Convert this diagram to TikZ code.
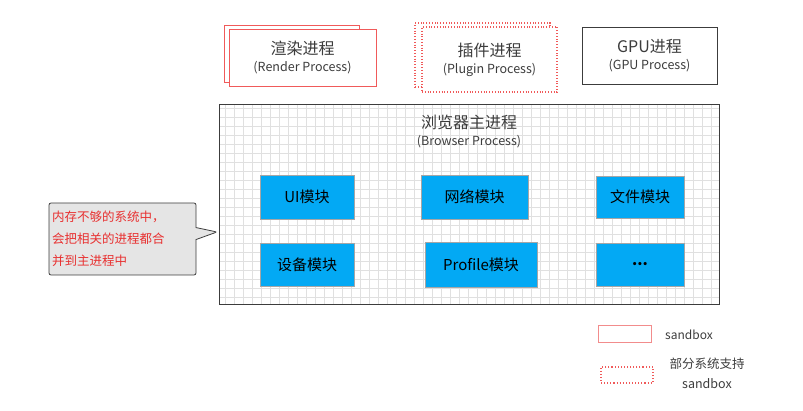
\documentclass[tikz,border=0pt]{standalone}
\usepackage{fontspec}
\setmainfont{Noto Sans CJK SC}
\usepackage{tikz}
\usetikzlibrary{shapes.callouts,positioning}
\definecolor{sbred}{RGB}{240,90,90}
\definecolor{sblight}{RGB}{242,140,140}
\definecolor{modblue}{RGB}{3,169,244}
\definecolor{notered}{RGB}{232,48,48}
\definecolor{inkgray}{RGB}{60,60,60}

\begin{document}
\begin{tikzpicture}[x=1pt,y=-1pt,
  procbox/.style={draw, line width=0.8pt, fill=white, align=center, text=inkgray, inner sep=0pt},
  modbox/.style={draw=black!35, fill=modblue, line width=0.5pt, inner sep=0pt, font=\fontsize{15}{18}\selectfont}]
\useasboundingbox (0,0) rectangle (803,411);

% child processes
\node (renderback) [procbox, draw=sbred, minimum width=135, minimum height=57] at (291.5,53.5) {};
\node (render) [procbox, draw=sbred, minimum width=147, minimum height=57] at (302.5,57.5)
  {{\fontsize{16}{18}\selectfont 渲染进程}\\[5pt]{\fontsize{12.5}{14}\selectfont (Render Process)}};
\node (pluginback) [procbox, draw=sbred, dotted, line width=1.2pt, minimum width=135, minimum height=64] at (482.5,55) {};
\node (plugin) [procbox, draw=sbred, dotted, line width=1.2pt, minimum width=135, minimum height=65] at (489.5,59.5)
  {{\fontsize{16}{18}\selectfont 插件进程}\\[5pt]{\fontsize{12.5}{14}\selectfont (Plugin Process)}};
\node (gpu) [procbox, draw=inkgray, minimum width=135, minimum height=57] at (649.5,55.5)
  {{\fontsize{16}{18}\selectfont GPU进程}\\[5pt]{\fontsize{12.5}{14}\selectfont (GPU Process)}};

% browser process
\draw[black!12, step=9pt] (219,104) grid (719,304);
\node (browser) [draw=inkgray, line width=0.8pt, minimum width=500, minimum height=200] at (469,204) {};
\node (bptitle) [align=center, text=inkgray] at (469,132)
  {{\fontsize{16}{18}\selectfont 浏览器主进程}\\[5pt]{\fontsize{12.5}{14}\selectfont (Browser Process)}};

\node (ui) [modbox, minimum width=94, minimum height=44] at (307,197) {UI模块};
\node (net) [modbox, minimum width=107, minimum height=44] at (474.5,197) {网络模块};
\node (file) [modbox, minimum width=88, minimum height=42] at (640,197) {文件模块};
\node (device) [modbox, minimum width=94, minimum height=43] at (307,264.5) {设备模块};
\node (profile) [modbox, minimum width=112, minimum height=45] at (481,264.5) {Profile模块};
\node (more) [modbox, minimum width=88, minimum height=43] at (640,264.5) {\bfseries ...};

% note
\coordinate (tip) at (217,232);
\node (note) [rectangle callout, callout absolute pointer={(tip)}, callout pointer width=12pt,
  draw=inkgray, fill=black!10, line width=0.8pt, rounded corners=2pt,
  minimum width=147, minimum height=72, text width=141pt, inner sep=3pt, align=left,
  text=notered, font=\fontsize{12.5}{22}\selectfont] at (122.5,239)
  {内存不够的系统中，\\会把相关的进程都合\\并到主进程中};

% legend
\node (keysolid) [draw=sblight, line width=0.8pt, minimum width=53, minimum height=17, inner sep=0pt] at (624.5,333.5) {};
\node (keysolidtxt) [text=inkgray, font=\fontsize{12}{14}\selectfont] at (689,335) {sandbox};
\node (keydot) [draw=sbred, dotted, line width=1.1pt, minimum width=52, minimum height=16, inner sep=0pt] at (627,375) {};
\node (keydottxt) [text=inkgray, align=center, font=\fontsize{12.5}{20}\selectfont] at (707,373) {部分系统支持\\sandbox};
\end{tikzpicture}
\end{document}
